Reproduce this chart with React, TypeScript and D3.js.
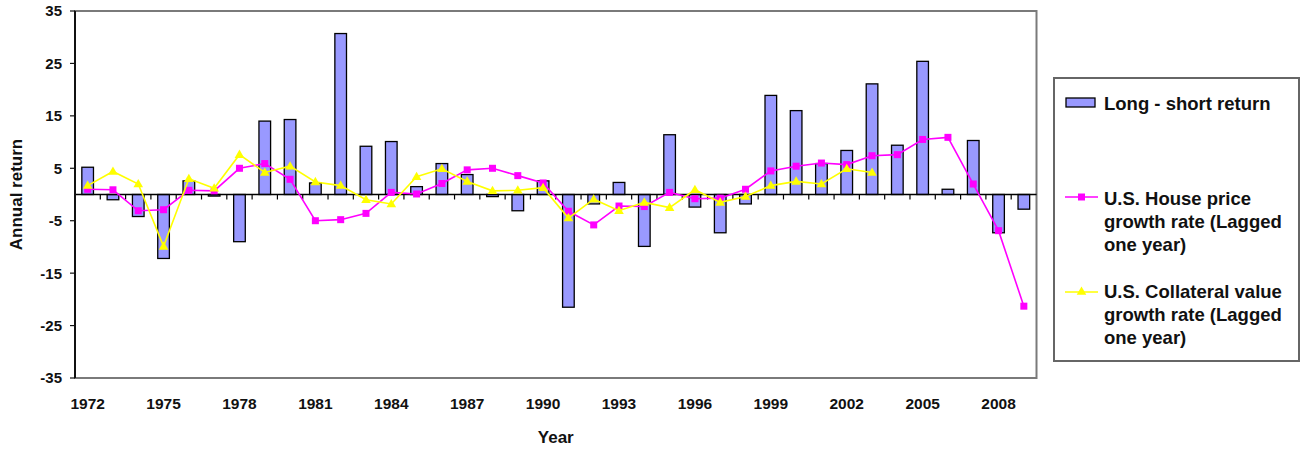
import React, { useEffect, useRef } from 'react';
import * as d3 from 'd3';

const years = d3.range(1972, 2010);

const longShort = [
  5.2, -1.0, -4.2, -12.2, 2.6, -0.3, -9.0, 14.0, 14.3, 2.2, 30.7, 9.2, 10.1,
  1.5, 5.9, 3.8, -0.4, -3.1, 2.6, -21.5, -1.8, 2.3, -9.9, 11.4, -2.4, -7.3,
  -1.8, 18.9, 16.0, 5.9, 8.4, 21.1, 9.4, 25.4, 1.0, 10.3, -7.3, -2.8,
];

const housePrice = [
  1.0, 0.9, -3.1, -2.9, 0.8, 0.7, 5.0, 5.9, 2.9, -5.0, -4.8, -3.6, 0.4,
  0.1, 2.1, 4.7, 5.0, 3.6, 2.2, -3.2, -5.8, -2.2, -2.3, 0.4, -0.8, -0.7,
  1.0, 4.5, 5.4, 6.0, 5.7, 7.4, 7.6, 10.5, 10.9, 2.0, -6.9, -21.3,
];

// collateral series stops in 2003
const collateral = [
  1.7, 4.4, 2.0, -9.9, 3.0, 1.2, 7.6, 4.2, 5.4, 2.4, 1.7, -1.0, -1.8,
  3.4, 4.9, 2.5, 0.7, 0.8, 1.3, -4.5, -0.9, -3.1, -1.5, -2.5, 0.9, -1.5,
  -0.4, 1.7, 2.5, 2.0, 4.9, 4.2, null, null, null, null, null, null,
];

const yTicks = [35, 25, 15, 5, -5, -15, -25, -35];
const xTickYears = d3.range(1972, 2010, 3);

const FONT = "'Liberation Sans', Arial, sans-serif";

const Chart = () => {
  const ref = useRef<SVGSVGElement>(null);

  useEffect(() => {
    const width = 1303;
    const height = 453;
    const plot = { left: 75, right: 1036.5, top: 11, bottom: 378 };

    const svg = d3.select(ref.current);
    svg.selectAll('*').remove();
    svg.attr('width', width).attr('height', height);

    const x = d3
      .scaleBand<number>()
      .domain(years)
      .range([plot.left, plot.right])
      .padding(0);
    const y = d3.scaleLinear().domain([-35, 35]).range([plot.bottom, plot.top]);
    const cx = (yr: number) => (x(yr) as number) + x.bandwidth() / 2;
    const barW = x.bandwidth() * 0.46;

    // plot frame
    svg
      .append('rect')
      .attr('x', plot.left)
      .attr('y', plot.top)
      .attr('width', plot.right - plot.left)
      .attr('height', plot.bottom - plot.top)
      .attr('fill', '#fff')
      .attr('stroke', '#7a7a7a')
      .attr('stroke-width', 2);

    // bars
    svg
      .append('g')
      .selectAll('rect')
      .data(longShort)
      .enter()
      .append('rect')
      .attr('x', (d, i) => cx(years[i]) - barW / 2)
      .attr('y', (d) => y(Math.max(0, d)))
      .attr('width', barW)
      .attr('height', (d) => Math.abs(y(d) - y(0)))
      .attr('fill', '#9999ff')
      .attr('stroke', '#000')
      .attr('stroke-width', 1.3);

    // category axis at zero
    const zero = y(0);
    const xAxis = svg.append('g');
    xAxis
      .append('line')
      .attr('x1', plot.left)
      .attr('x2', plot.right)
      .attr('y1', zero)
      .attr('y2', zero)
      .attr('stroke', '#000')
      .attr('stroke-width', 1.5);
    xAxis
      .selectAll('line.tick')
      .data(years.slice(1))
      .enter()
      .append('line')
      .attr('class', 'tick')
      .attr('x1', (d) => x(d) as number)
      .attr('x2', (d) => x(d) as number)
      .attr('y1', zero)
      .attr('y2', zero + 5)
      .attr('stroke', '#000')
      .attr('stroke-width', 1.2);

    // value axis
    const yAxis = svg.append('g');
    yAxis
      .append('line')
      .attr('x1', plot.left)
      .attr('x2', plot.left)
      .attr('y1', plot.top)
      .attr('y2', plot.bottom)
      .attr('stroke', '#111')
      .attr('stroke-width', 2);
    yAxis
      .selectAll('line.tick')
      .data(yTicks)
      .enter()
      .append('line')
      .attr('x1', plot.left - 5)
      .attr('x2', plot.left)
      .attr('y1', (d) => y(d))
      .attr('y2', (d) => y(d))
      .attr('stroke', '#111')
      .attr('stroke-width', 1.2);
    yAxis
      .selectAll('text')
      .data(yTicks)
      .enter()
      .append('text')
      .attr('x', 62)
      .attr('y', (d) => y(d))
      .attr('dy', '0.36em')
      .attr('text-anchor', 'end')
      .attr('font-family', FONT)
      .attr('font-weight', 'bold')
      .attr('font-size', 15)
      .attr('fill', '#111')
      .text((d) => d);

    svg
      .append('g')
      .selectAll('text')
      .data(xTickYears)
      .enter()
      .append('text')
      .attr('x', (d) => cx(d))
      .attr('y', 409)
      .attr('text-anchor', 'middle')
      .attr('font-family', FONT)
      .attr('font-weight', 'bold')
      .attr('font-size', 15.5)
      .attr('fill', '#111')
      .text((d) => d);

    // axis titles
    svg
      .append('text')
      .attr('x', (plot.left + plot.right) / 2)
      .attr('y', 443)
      .attr('text-anchor', 'middle')
      .attr('font-family', FONT)
      .attr('font-weight', 'bold')
      .attr('font-size', 17)
      .attr('fill', '#111')
      .text('Year');
    svg
      .append('text')
      .attr('transform', `translate(22,${zero}) rotate(-90)`)
      .attr('text-anchor', 'middle')
      .attr('font-family', FONT)
      .attr('font-weight', 'bold')
      .attr('font-size', 17)
      .attr('fill', '#111')
      .text('Annual return');

    // house price line with square markers
    const line = d3
      .line<number | null>()
      .defined((d) => d !== null)
      .x((d, i) => cx(years[i]))
      .y((d) => y(d as number));

    svg
      .append('path')
      .datum(housePrice)
      .attr('d', line)
      .attr('fill', 'none')
      .attr('stroke', '#ff00ff')
      .attr('stroke-width', 1.6);
    svg
      .append('g')
      .selectAll('rect')
      .data(housePrice)
      .enter()
      .append('rect')
      .attr('x', (d, i) => cx(years[i]) - 3.5)
      .attr('y', (d) => y(d) - 3.5)
      .attr('width', 7)
      .attr('height', 7)
      .attr('fill', '#ff00ff');

    // collateral line with triangle markers
    const tri = d3.symbol().type(d3.symbolTriangle).size(40);
    svg
      .append('path')
      .datum(collateral)
      .attr('d', line)
      .attr('fill', 'none')
      .attr('stroke', '#ffff00')
      .attr('stroke-width', 1.6);
    svg
      .append('g')
      .selectAll('path')
      .data(collateral.map((v, i) => ({ v, i })).filter((d) => d.v !== null))
      .enter()
      .append('path')
      .attr('d', tri)
      .attr('transform', (d) => `translate(${cx(years[d.i])},${y(d.v as number) + 0.5})`)
      .attr('fill', '#ffff00');

    // legend
    const lg = svg.append('g');
    lg.append('rect')
      .attr('x', 1054)
      .attr('y', 78)
      .attr('width', 245)
      .attr('height', 283)
      .attr('fill', '#fff')
      .attr('stroke', '#666')
      .attr('stroke-width', 2);

    lg.append('rect')
      .attr('x', 1066)
      .attr('y', 98)
      .attr('width', 29)
      .attr('height', 9)
      .attr('fill', '#9999ff')
      .attr('stroke', '#000')
      .attr('stroke-width', 1.3);

    const legendText = (lines: string[], y0: number) => {
      const t = lg
        .append('text')
        .attr('font-family', FONT)
        .attr('font-weight', 'bold')
        .attr('font-size', 18.5)
        .attr('fill', '#111');
      lines.forEach((s, k) => {
        t.append('tspan').attr('x', 1104).attr('y', y0 + k * 23).text(s);
      });
    };
    legendText(['Long - short return'], 110);

    lg.append('line')
      .attr('x1', 1065)
      .attr('x2', 1098)
      .attr('y1', 197)
      .attr('y2', 197)
      .attr('stroke', '#ff00ff')
      .attr('stroke-width', 1.6);
    lg.append('rect')
      .attr('x', 1078)
      .attr('y', 193.5)
      .attr('width', 7)
      .attr('height', 7)
      .attr('fill', '#ff00ff');
    legendText(['U.S. House price', 'growth rate (Lagged', 'one year)'], 205);

    lg.append('line')
      .attr('x1', 1065)
      .attr('x2', 1098)
      .attr('y1', 292)
      .attr('y2', 292)
      .attr('stroke', '#ffff00')
      .attr('stroke-width', 1.6);
    lg.append('path')
      .attr('d', tri)
      .attr('transform', 'translate(1081.5,292)')
      .attr('fill', '#ffff00');
    legendText(['U.S. Collateral value', 'growth rate (Lagged', 'one year)'], 298);
  }, []);

  return <svg ref={ref} style={{ position: 'absolute', left: 0, top: 0 }} />;
};

const App = () => <Chart />;

export default App;
